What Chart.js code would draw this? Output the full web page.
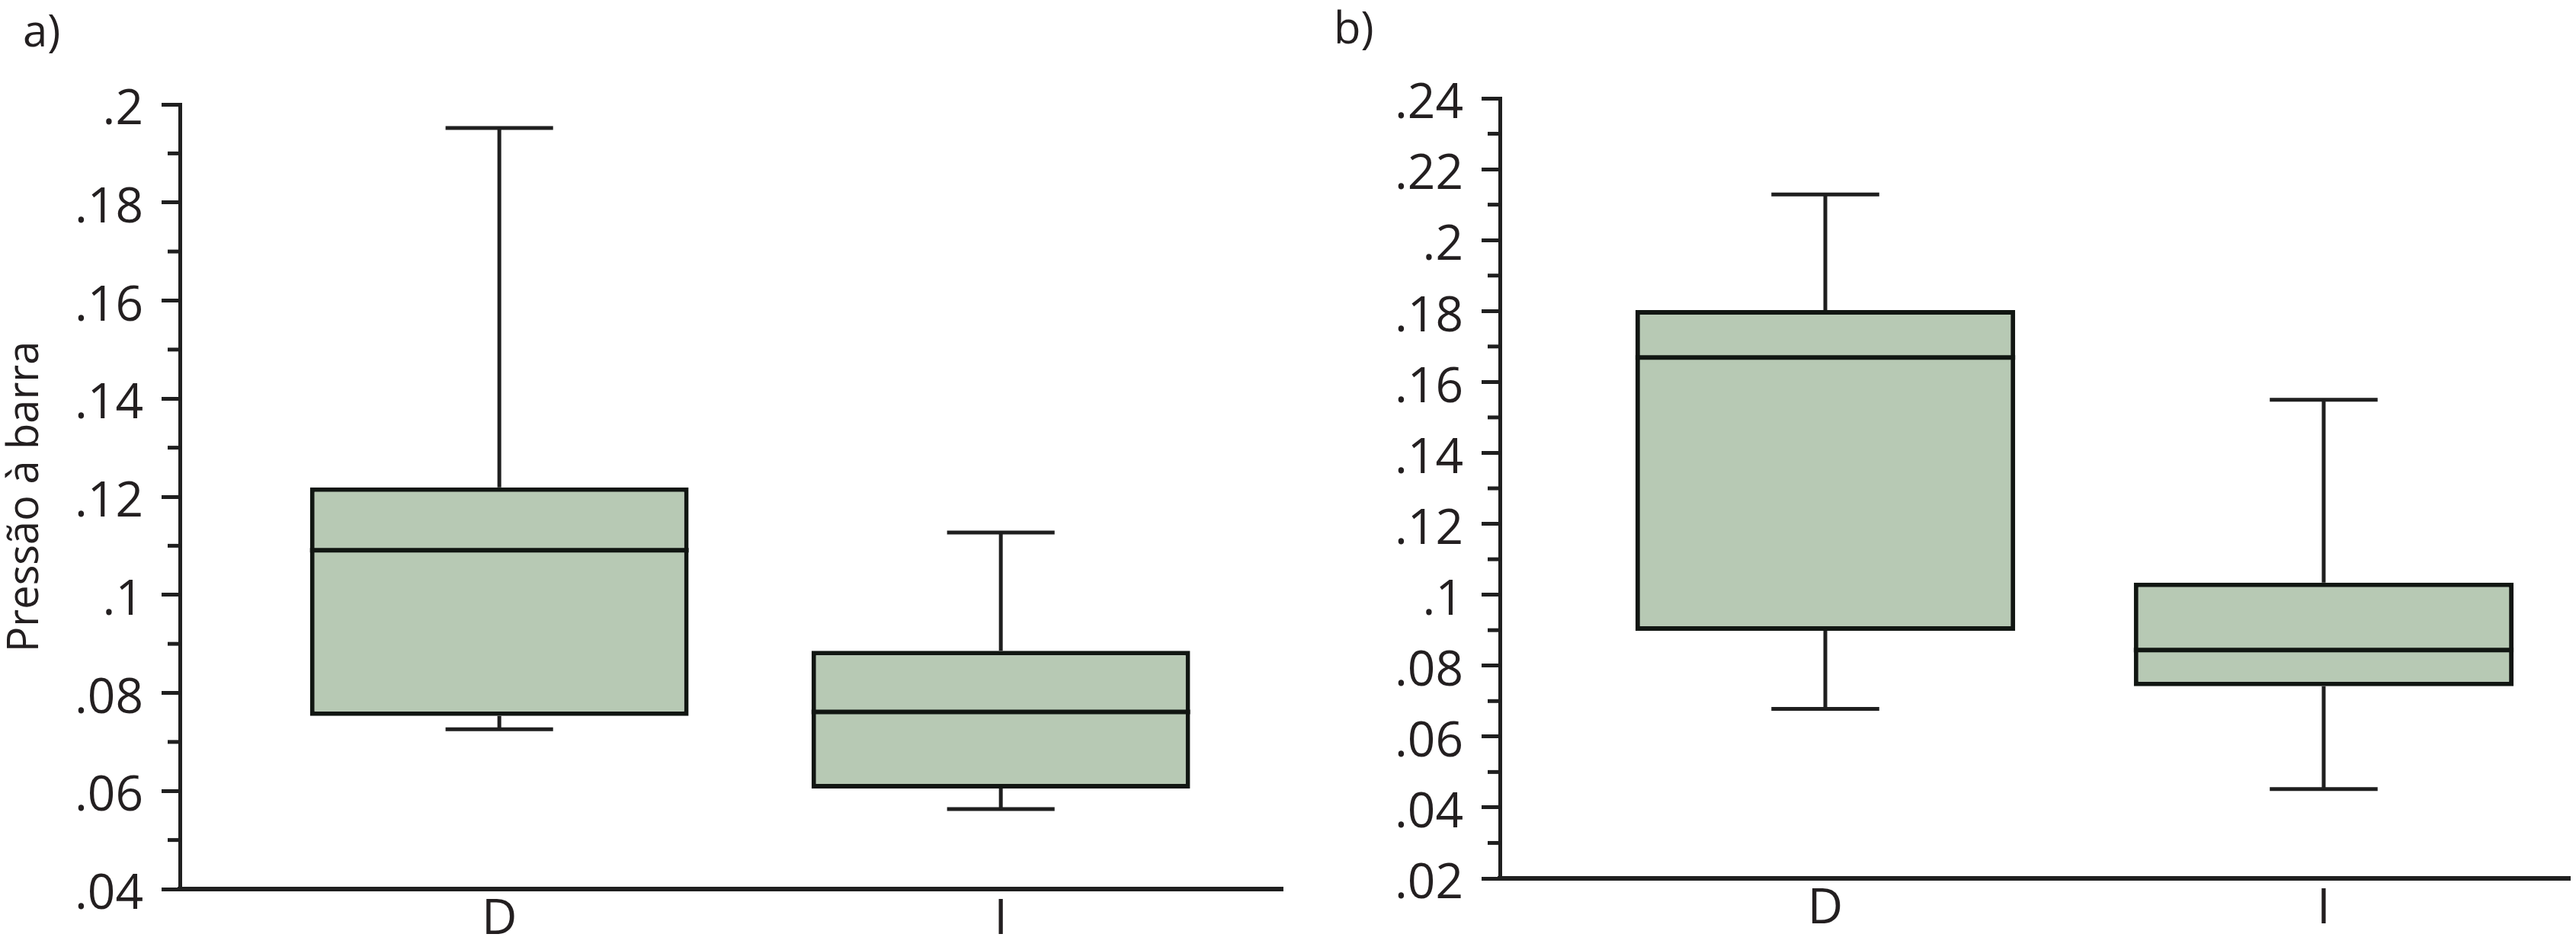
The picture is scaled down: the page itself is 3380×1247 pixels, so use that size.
<!DOCTYPE html>
<html>
<head>
<meta charset="utf-8">
<script src="https://cdn.jsdelivr.net/npm/chart.js@4.4.1/dist/chart.umd.min.js"></script>
<style>
  html, body { margin: 0; padding: 0; background: #fff; }
  body { width: 3380px; height: 1247px; position: relative; overflow: hidden; font-family: "Open Sans", sans-serif; color: #231f20; }
  canvas { position: absolute; top: 0; }
  #chartA { left: 0; }
  #chartB { left: 1700px; }
  .panel-label { position: absolute; font-size: 58px; line-height: 1; }
</style>
</head>
<body>
<div class="panel-label" style="left:30px; top:10px">a)</div>
<div class="panel-label" style="left:1750px; top:6px">b)</div>
<canvas id="chartA" width="1700" height="1247"></canvas>
<canvas id="chartB" width="1680" height="1247"></canvas>
<script>
const categories = ["D", "I"];
const yTitle = "Pressão à barra";

// painel a)
const minA = [0.0726, 0.0563];
const q1A = [0.0753, 0.0605];
const medianA = [0.1091, 0.0761];
const q3A = [0.1219, 0.0886];
const maxA = [0.1952, 0.1127];
const yTicksA = [0.04, 0.06, 0.08, 0.1, 0.12, 0.14, 0.16, 0.18, 0.2];

// painel b)
const minB = [0.0678, 0.0452];
const q1B = [0.0898, 0.0742];
const medianB = [0.1669, 0.0844];
const q3B = [0.1803, 0.1034];
const maxB = [0.2129, 0.155];
const yTicksB = [0.02, 0.04, 0.06, 0.08, 0.1, 0.12, 0.14, 0.16, 0.18, 0.2, 0.22, 0.24];

const boxFill = "#b7c9b4";
const boxEdge = "#111612";
const lineColor = "#1f1f1f";
const textColor = "#231f20";
const fontFamily = "'Open Sans', sans-serif";

// whiskers + caps behind the box, median line on top
const boxPlotLines = {
    id: "boxPlotLines",
    beforeDatasetsDraw(chart) {
        const ctx = chart.ctx;
        const y = chart.scales.y;
        const stats = chart.data.datasets[0].stats;
        const bars = chart.getDatasetMeta(0).data;
        ctx.save();
        ctx.strokeStyle = lineColor;
        ctx.lineWidth = 5;
        bars.forEach((bar, i) => {
            const cap = bar.width * 0.142;
            [[stats.q3[i], stats.max[i]], [stats.q1[i], stats.min[i]]].forEach(([from, to]) => {
                const y0 = y.getPixelForValue(from);
                const y1 = y.getPixelForValue(to);
                ctx.beginPath();
                ctx.moveTo(bar.x, y0);
                ctx.lineTo(bar.x, y1);
                ctx.moveTo(bar.x - cap, y1);
                ctx.lineTo(bar.x + cap, y1);
                ctx.stroke();
            });
        });
        ctx.restore();
    },
    afterDatasetsDraw(chart) {
        const ctx = chart.ctx;
        const y = chart.scales.y;
        const stats = chart.data.datasets[0].stats;
        const bars = chart.getDatasetMeta(0).data;
        ctx.save();
        ctx.strokeStyle = boxEdge;
        ctx.lineWidth = 6;
        bars.forEach((bar, i) => {
            const py = y.getPixelForValue(stats.median[i]);
            ctx.beginPath();
            ctx.moveTo(bar.x - bar.width / 2, py);
            ctx.lineTo(bar.x + bar.width / 2, py);
            ctx.stroke();
        });
        ctx.restore();
    }
};

// short unlabeled ticks halfway between the labeled ones
const minorTicks = {
    id: "minorTicks",
    afterDraw(chart) {
        const ctx = chart.ctx;
        const y = chart.scales.y;
        const vals = y.ticks.map((t) => t.value);
        ctx.save();
        ctx.strokeStyle = lineColor;
        ctx.lineWidth = 5;
        for (let i = 0; i < vals.length - 1; i++) {
            const py = y.getPixelForValue((vals[i] + vals[i + 1]) / 2);
            ctx.beginPath();
            ctx.moveTo(y.right - 16, py);
            ctx.lineTo(y.right, py);
            ctx.stroke();
        }
        ctx.restore();
    }
};

function fmt(v) {
    return String(parseFloat(v.toFixed(3))).replace(/^0\./, ".");
}

function makeChart(id, stats, yTicks, cfg) {
    return new Chart(document.getElementById(id), {
        type: "bar",
        data: {
            datasets: [{
                data: categories.map((c, i) => ({ x: i + 1, y: [stats.q1[i], stats.q3[i]] })),
                backgroundColor: boxFill,
                borderColor: boxEdge,
                borderWidth: 6,
                borderSkipped: false,
                barPercentage: cfg.barPct,
                categoryPercentage: 1,
                stats
            }]
        },
        options: {
            responsive: false,
            animation: false,
            devicePixelRatio: 1,
            layout: { padding: { top: cfg.top, right: cfg.right, bottom: 0, left: 0 } },
            plugins: {
                legend: { display: false },
                tooltip: { enabled: false }
            },
            scales: {
                x: {
                    type: "linear",
                    offset: false,
                    min: cfg.xMin,
                    max: cfg.xMax,
                    afterBuildTicks: (s) => { s.ticks = categories.map((c, i) => ({ value: i + 1 })); },
                    afterFit: (s) => { s.height = cfg.xHeight; },
                    grid: { display: false, drawTicks: false, offset: false },
                    border: { display: true, color: lineColor, width: 6 },
                    ticks: {
                        callback: (v) => categories[v - 1],
                        autoSkip: false,
                        maxRotation: 0,
                        padding: 2,
                        color: textColor,
                        font: { family: fontFamily, size: 64 }
                    }
                },
                y: {
                    min: yTicks[0],
                    max: yTicks[yTicks.length - 1],
                    afterBuildTicks: (s) => { s.ticks = yTicks.map((v) => ({ value: v })); },
                    afterFit: (s) => { s.width = cfg.yWidth; },
                    grid: { drawOnChartArea: false, drawTicks: true, tickLength: 24, lineWidth: 5, tickWidth: 5, tickColor: lineColor },
                    border: { display: true, color: lineColor, width: 5 },
                    ticks: {
                        callback: (v) => fmt(v),
                        padding: 24,
                        labelOffset: 8,
                        color: textColor,
                        font: { family: fontFamily, size: 64 }
                    },
                    title: {
                        display: cfg.showTitle,
                        text: yTitle,
                        color: textColor,
                        font: { family: fontFamily, size: 56, lineHeight: 1 },
                        padding: { top: 6, bottom: 0 }
                    }
                }
            }
        },
        plugins: [boxPlotLines, minorTicks]
    });
}

makeChart("chartA",
    { min: minA, q1: q1A, median: medianA, q3: q3A, max: maxA },
    yTicksA,
    { top: 137, right: 17, xHeight: 80, yWidth: 236, xMin: 0.363, xMax: 2.562, barPct: 0.755, showTitle: true });

makeChart("chartB",
    { min: minB, q1: q1B, median: medianB, q3: q3B, max: maxB },
    yTicksB,
    { top: 129, right: 8, xHeight: 94, yWidth: 268, xMin: 0.347, xMax: 2.494, barPct: 0.762, showTitle: false });
</script>
</body>
</html>
